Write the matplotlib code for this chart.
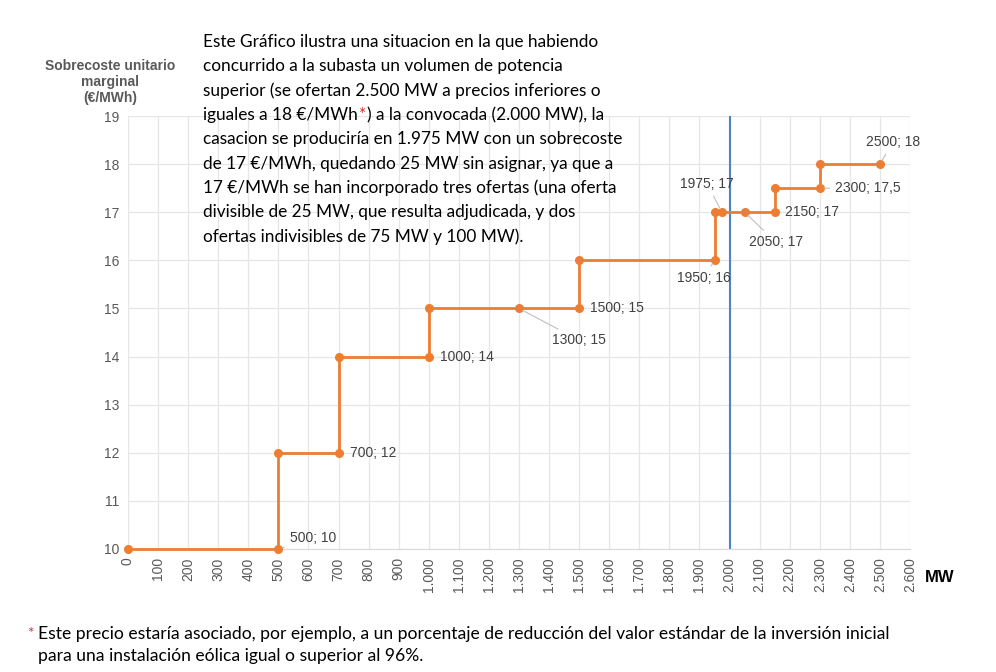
import matplotlib
matplotlib.use("Agg")
import matplotlib.pyplot as plt
from matplotlib import font_manager

# Step curve (MW, €/MWh)
mw = [0, 500, 500, 700, 700, 1000, 1000, 1300, 1500, 1500, 1950, 1950, 1975, 2050, 2150, 2150, 2300, 2300, 2500]
cost = [10, 10, 12, 12, 14, 14, 15, 15, 15, 16, 16, 17, 17, 17, 17, 17.5, 17.5, 18, 18]

# Data labels: point, label text, text position, alignment
lab_pts = [(500, 10), (700, 12), (1000, 14), (1300, 15), (1500, 15), (1950, 16),
           (1975, 17), (2050, 17), (2150, 17), (2300, 17.5), (2500, 18)]
lab_txt = ["500; 10", "700; 12", "1000; 14", "1300; 15", "1500; 15", "1950; 16",
           "1975; 17", "2050; 17", "2150; 17", "2300; 17,5", "2500; 18"]
lab_pos = [(538, 10.23), (738, 12), (1037, 14), (1410, 14.34), (1536, 15), (1915, 15.63),
           (1925, 17.59), (2154, 16.38), (2184, 17), (2351, 17.5), (2543, 18.46)]
lab_ha = ["left", "left", "left", "left", "left", "center",
          "center", "center", "left", "left", "center"]
lab_leader = [True, False, False, True, False, True, True, True, False, True, True]

x_ticks = list(range(0, 2700, 100))
y_ticks = list(range(10, 20))
convocada = 2000

names = {f.name for f in font_manager.fontManager.ttflist}
body_font = "Lato" if "Lato" in names else "DejaVu Sans"
narrow_font = "Liberation Sans Narrow" if "Liberation Sans Narrow" in names else body_font
axis_font = "Liberation Sans"

grey = "#595959"
orange = "#ED7D31"

fig = plt.figure(figsize=(9.96, 6.72), dpi=100)
ax = fig.add_axes([128 / 996, 1 - 549 / 672, (910 - 128) / 996, (549 - 116) / 672])

ax.plot(mw, cost, color=orange, lw=2, marker="o", ms=5.5, zorder=3, clip_on=False)
ax.axvline(convocada, color="#4A86C5", lw=1.5, zorder=2)

for (px, py), t, (tx, ty), ha, lead in zip(lab_pts, lab_txt, lab_pos, lab_ha, lab_leader):
    if lead:
        ax.annotate(t, xy=(px, py), xytext=(tx, ty), ha=ha, va="center",
                    fontsize=10, color="#404040", family=axis_font,
                    arrowprops=dict(arrowstyle="-", color="#bfbfbf", lw=0.8,
                                    shrinkA=2, shrinkB=3))
    else:
        ax.text(tx, ty, t, ha=ha, va="center", fontsize=10, color="#404040", family=axis_font)

ax.set_xlim(0, 2600)
ax.set_ylim(10, 19)
ax.set_xticks(x_ticks)
ax.set_xticklabels([f"{v:,}".replace(",", ".") for v in x_ticks], rotation=90,
                   color=grey, fontsize=10, family=axis_font)
ax.set_yticks(y_ticks)
ax.set_yticklabels([str(v) for v in y_ticks], color=grey, fontsize=10, family=axis_font)
ax.tick_params(length=0, pad=6)
ax.grid(True, color="#e6e6e6", lw=0.9, zorder=0)
ax.set_axisbelow(True)
for s in ["top", "right", "left"]:
    ax.spines[s].set_visible(False)
ax.spines["bottom"].set_color("#d9d9d9")

fig.text(110 / 996, 1 - 82 / 672, "Sobrecoste unitario\nmarginal\n(€/MWh)", ha="center", va="center",
         fontsize=10, fontweight="bold", color=grey, family=axis_font, linespacing=1.2)
fig.text(940 / 996, 1 - 577 / 672, "MW", ha="center", va="center", fontsize=12,
         fontweight="bold", color="black", family=axis_font)

# Explanatory text box
box_lines = [
    "Este Gráfico ilustra una situacion en la que habiendo",
    "concurrido a la subasta un volumen de potencia",
    "superior (se ofertan 2.500 MW a precios inferiores o",
    None,
    "casacion se produciría en 1.975 MW con un sobrecoste",
    "de 17 €/MWh, quedando 25 MW sin asignar, ya que a",
    "17 €/MWh se han incorporado tres ofertas (una oferta",
    "divisible de 25 MW, que resulta adjudicada, y dos",
    "ofertas indivisibles de 75 MW y 100 MW).",
]
renderer = fig.canvas.get_renderer()
x0 = 203 / 996
for i, line in enumerate(box_lines):
    y = 1 - (42 + i * 24.3) / 672
    if line is not None:
        fig.text(x0, y, line, ha="left", va="center", fontsize=12.4, family=body_font, color="black")
    else:
        t1 = fig.text(x0, y, "iguales a 18 €/MWh", ha="left", va="center", fontsize=12.4,
                      family=body_font, color="black")
        bb = t1.get_window_extent(renderer)
        t2 = fig.text(bb.x1 / fig.bbox.width + 0.001, y, "*", ha="left", va="center", fontsize=12.4,
                      family=body_font, color="#E03030")
        bb2 = t2.get_window_extent(renderer)
        fig.text(bb2.x1 / fig.bbox.width + 0.001, y, ") a la convocada (2.000 MW), la", ha="left",
                 va="center", fontsize=12.4, family=body_font, color="black")

# Footnote
fig.text(30 / 996, 1 - 634 / 672, "*", ha="center", va="center", fontsize=11, color="#E03030",
         family=narrow_font)
fig.text(38 / 996, 1 - 634 / 672,
         "Este precio estaría asociado, por ejemplo, a un porcentaje de reducción del valor estándar de la inversión inicial",
         ha="left", va="center", fontsize=12.6, family=narrow_font, color="black")
fig.text(38 / 996, 1 - 656 / 672, "para una instalación eólica igual o superior al 96%.",
         ha="left", va="center", fontsize=12.6, family=narrow_font, color="black")

fig.savefig("out.png", dpi=100)
